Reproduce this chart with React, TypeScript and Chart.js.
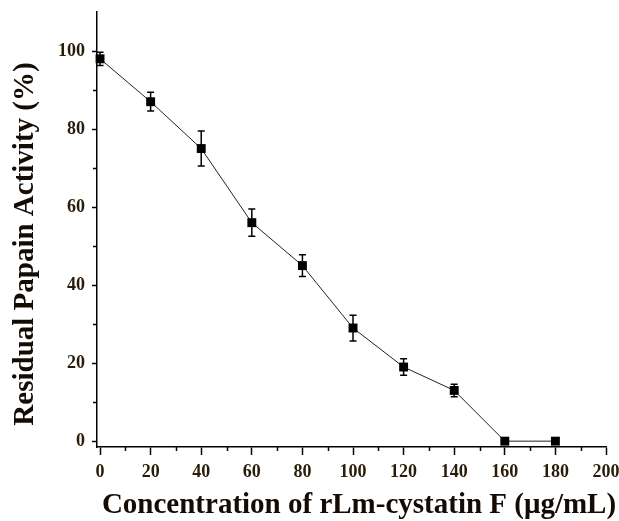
import React, { useEffect, useRef } from "react";
import { Chart, registerables } from "chart.js";

Chart.register(...registerables);

const concentrations = [0, 20, 40, 60, 80, 100, 120, 140, 160, 180];
const activity = [98, 87, 75, 56, 45, 29, 19, 13, 0, 0];
const errors = [1.7, 2.4, 4.5, 3.5, 2.8, 3.3, 2.1, 1.6, 0, 0];
const xMajorTicks = [0, 20, 40, 60, 80, 100, 120, 140, 160, 180, 200];
const xMinorTicks = [10, 30, 50, 70, 90, 110, 130, 150, 170, 190];
const yMajorTicks = [0, 20, 40, 60, 80, 100];
const yMinorTicks = [10, 30, 50, 70, 90];
const xTitle = "Concentration of rLm-cystatin F (μg/mL)";
const yTitle = "Residual Papain Activity (%)";

const FONT = "'Liberation Serif', 'Times New Roman', serif";
const TICK_COLOR = "#2a1c08";
const TITLE_COLOR = "#140c04";

const errorBarPlugin = {
  id: "errorBars",
  beforeDatasetsDraw(chart: any) {
    const { ctx, scales } = chart;
    const xs = scales.x;
    const ys = scales.y;
    ctx.save();
    ctx.strokeStyle = "#000";
    ctx.lineWidth = 1.5;
    concentrations.forEach((c, i) => {
      const e = errors[i];
      if (!e) return;
      const px = xs.getPixelForValue(c);
      const top = ys.getPixelForValue(activity[i] + e);
      const bot = ys.getPixelForValue(activity[i] - e);
      ctx.beginPath();
      ctx.moveTo(px, top);
      ctx.lineTo(px, bot);
      ctx.moveTo(px - 3.5, top);
      ctx.lineTo(px + 3.5, top);
      ctx.moveTo(px - 3.5, bot);
      ctx.lineTo(px + 3.5, bot);
      ctx.stroke();
    });
    ctx.restore();
  },
};

const minorTickPlugin = {
  id: "minorTicks",
  afterDraw(chart: any) {
    const { ctx, scales, chartArea } = chart;
    ctx.save();
    ctx.strokeStyle = "#000";
    ctx.lineWidth = 1.5;
    ctx.beginPath();
    xMinorTicks.forEach((v) => {
      const px = Math.round(scales.x.getPixelForValue(v)) + 0.5;
      ctx.moveTo(px, chartArea.bottom);
      ctx.lineTo(px, chartArea.bottom + 4);
    });
    yMinorTicks.forEach((v) => {
      const py = Math.round(scales.y.getPixelForValue(v)) + 0.5;
      ctx.moveTo(chartArea.left, py);
      ctx.lineTo(chartArea.left - 4, py);
    });
    ctx.stroke();
    ctx.restore();
  },
};

const titlePlugin = {
  id: "axisTitles",
  afterDraw(chart: any) {
    const { ctx } = chart;
    ctx.save();
    ctx.fillStyle = TITLE_COLOR;
    ctx.font = `bold 29px ${FONT}`;
    ctx.textAlign = "center";
    ctx.textBaseline = "alphabetic";
    ctx.fillText(xTitle, 359, 513);
    ctx.translate(33, 244);
    ctx.rotate(-Math.PI / 2);
    ctx.fillText(yTitle, 0, 0);
    ctx.restore();
  },
};

export default function App() {
  const ref = useRef<HTMLCanvasElement | null>(null);

  useEffect(() => {
    if (!ref.current) return;
    const chart = new Chart(ref.current, {
      type: "scatter",
      data: {
        datasets: [
          {
            data: concentrations.map((c, i) => ({ x: c, y: activity[i] })),
            showLine: true,
            borderColor: "#222",
            borderWidth: 1,
            pointStyle: "rect",
            pointRadius: 6.3,
            pointBackgroundColor: "#000",
            pointBorderColor: "#000",
            pointBorderWidth: 0,
            clip: false as any,
          },
        ],
      },
      options: {
        responsive: false,
        animation: false,
        layout: { padding: { top: 12, right: 13, left: 0, bottom: 0 } },
        plugins: { legend: { display: false }, tooltip: { enabled: false } },
        scales: {
          x: {
            type: "linear",
            min: -1.2,
            max: 200,
            afterBuildTicks: (s: any) => {
              s.ticks = xMajorTicks.map((v) => ({ value: v }));
            },
            afterFit: (s: any) => {
              s.height = 521 - 447;
              s.paddingLeft = 0;
              s.paddingRight = 0;
            },
            grid: {
              display: true,
              drawOnChartArea: false,
              drawTicks: true,
              tickLength: 8,
              tickColor: "#000",
              tickWidth: 1.5,
            },
            border: { display: true, color: "#000", width: 1.5 },
            ticks: {
              color: TICK_COLOR,
              font: { family: FONT, size: 18, weight: "bold" },
              padding: 7,
              maxRotation: 0,
              autoSkip: false,
            },
            title: { display: false },
          },
          y: {
            type: "linear",
            min: -1.5,
            max: 110,
            afterBuildTicks: (s: any) => {
              s.ticks = yMajorTicks.map((v) => ({ value: v }));
            },
            afterFit: (s: any) => {
              s.width = 97;
              s.paddingTop = 0;
              s.paddingBottom = 0;
            },
            grid: {
              display: true,
              drawOnChartArea: false,
              drawTicks: true,
              tickLength: 5,
              tickColor: "#000",
              tickWidth: 1.5,
            },
            border: { display: true, color: "#000", width: 1.5 },
            ticks: {
              color: TICK_COLOR,
              font: { family: FONT, size: 18, weight: "bold" },
              padding: 7,
              autoSkip: false,
            },
            title: { display: false },
          },
        },
      },
      plugins: [errorBarPlugin, minorTickPlugin, titlePlugin],
    });
    return () => chart.destroy();
  }, []);

  return (
    <div style={{ position: "fixed", left: 0, top: 0, width: 619, height: 521, background: "#fff" }}>
      <canvas ref={ref} width={619} height={521} style={{ display: "block" }} />
    </div>
  );
}
